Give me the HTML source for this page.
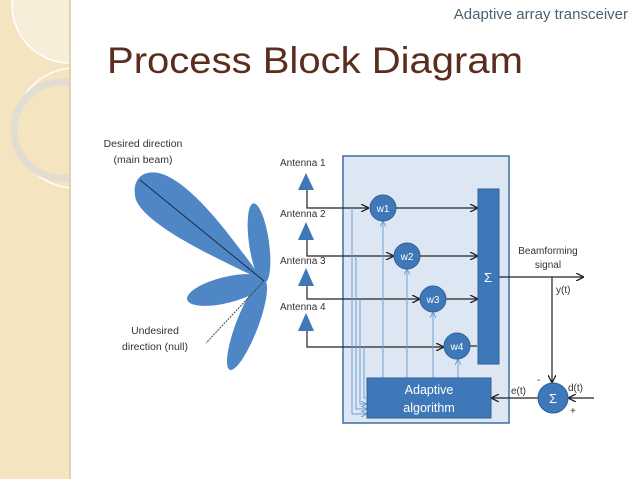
<!DOCTYPE html><html><head><style>body{margin:0;width:638px;height:479px;background:#fff;overflow:hidden;font-family:"Liberation Sans",sans-serif}</style></head><body>
<svg width="638" height="479" viewBox="0 0 638 479" xmlns="http://www.w3.org/2000/svg" font-family="Liberation Sans, sans-serif">
<defs><marker id="a" markerWidth="8" markerHeight="8" refX="7" refY="4" orient="auto" markerUnits="userSpaceOnUse"><path d="M0,0L8,4L0,8" fill="none" stroke="#222" stroke-width="1.3"/></marker>
<marker id="b" markerWidth="6" markerHeight="6" refX="5" refY="3" orient="auto" markerUnits="userSpaceOnUse"><path d="M0,0L6,3L0,6" fill="none" stroke="#6f9fcf" stroke-width="1"/></marker>
<clipPath id="c"><rect x="0" y="0" width="70" height="479"/></clipPath></defs>
<rect x="0" y="0" width="70" height="479" fill="#f4e4c0"/>
<g clip-path="url(#c)">
<circle cx="70" cy="5" r="58" fill="#f7edd8" stroke="#fff" stroke-width="1.5"/>
<circle cx="75" cy="128" r="60" fill="none" stroke="#fff" stroke-width="1.5"/>
<circle cx="62" cy="130" r="48" fill="none" stroke="#e2ddd2" stroke-width="7"/>
</g>
<line x1="70" y1="0" x2="70" y2="479" stroke="#d8c8a0" stroke-width="1.5"/>
<text x="628" y="19" font-size="15" fill="#4d6270" text-anchor="end">Adaptive array transceiver</text>
<text x="107" y="73" font-size="37" fill="#5a2d1f" textLength="416" lengthAdjust="spacingAndGlyphs">Process Block Diagram</text>
<g fill="#4f86c6">
<path d="M264,281 C240,250 200,190 165,175 C145,167 130,178 136,200 C148,228 225,262 264,281Z"/>
<ellipse cx="259" cy="243" rx="40" ry="10" transform="rotate(82 259 243)"/>
<ellipse cx="226" cy="290" rx="40" ry="13" transform="rotate(-14 226 290)"/>
<ellipse cx="247" cy="325" rx="48" ry="11" transform="rotate(-69 247 325)"/>
</g>
<line x1="140" y1="180" x2="264" y2="281" stroke="#1a2a4a" stroke-width="1"/>
<line x1="264" y1="281" x2="206" y2="343" stroke="#444" stroke-width="1" stroke-dasharray="2,1"/>
<text font-size="10.5" fill="#333" text-anchor="middle"><tspan x="143" y="147">Desired direction</tspan><tspan x="143" y="163">(main beam)</tspan></text>
<text font-size="10.5" fill="#333" text-anchor="middle"><tspan x="155" y="334">Undesired</tspan><tspan x="155" y="350">direction (null)</tspan></text>
<rect x="343" y="156" width="166" height="267" fill="#dde7f3" stroke="#3d6ea6" stroke-width="1.5"/>
<g font-size="10" fill="#333"><text x="280" y="166">Antenna 1</text><text x="280" y="217">Antenna 2</text><text x="280" y="264">Antenna 3</text><text x="280" y="310">Antenna 4</text></g>
<g fill="#3f78b8"><path d="M306,173L298,190L314,190Z"/><path d="M306,222L298,240L314,240Z"/><path d="M306,268L298,286L314,286Z"/><path d="M306,313L298,331L314,331Z"/></g>
<g stroke="#222" stroke-width="1.2" fill="none">
<path d="M307,190V208H368" marker-end="url(#a)"/><path d="M307,240V256H393" marker-end="url(#a)"/><path d="M307,286V299H419" marker-end="url(#a)"/><path d="M307,331V347H443" marker-end="url(#a)"/>
<path d="M396,208H477" marker-end="url(#a)"/><path d="M420,256H477" marker-end="url(#a)"/><path d="M446,299H477" marker-end="url(#a)"/><path d="M470,346H477"/>
<path d="M499,277H583" marker-end="url(#a)"/><path d="M552,277V382" marker-end="url(#a)"/>
<path d="M538,398H492" marker-end="url(#a)"/><path d="M594,398H569" marker-end="url(#a)"/>
</g>
<g stroke="#6f9fcf" stroke-width="1" fill="none">
<path d="M383,378V222" marker-end="url(#b)"/><path d="M407,378V270" marker-end="url(#b)"/><path d="M433,378V313" marker-end="url(#b)"/><path d="M458,378V360" marker-end="url(#b)"/>
<path d="M352,208V414H366" marker-end="url(#b)"/><path d="M356,256V409H366" marker-end="url(#b)"/><path d="M360,299V404H366" marker-end="url(#b)"/><path d="M364,347V398H366"/>
</g>
<rect x="478" y="189" width="21" height="175" fill="#3f78b8" stroke="#2f5f98"/>
<text x="488" y="282" font-size="13" fill="#fff" text-anchor="middle">Σ</text>
<g fill="#3f78b8" stroke="#2f5f98"><circle cx="383" cy="208" r="13"/><circle cx="407" cy="256" r="13"/><circle cx="433" cy="299" r="13"/><circle cx="457" cy="346" r="13"/><circle cx="553" cy="398" r="15"/></g>
<g font-size="10" fill="#fff" text-anchor="middle"><text x="383" y="212">w1</text><text x="407" y="260">w2</text><text x="433" y="303">w3</text><text x="457" y="350">w4</text><text x="553" y="403" font-size="13">Σ</text></g>
<rect x="367" y="378" width="124" height="40" fill="#3f78b8" stroke="#2f5f98"/>
<text font-size="12.5" fill="#fff" text-anchor="middle"><tspan x="429" y="394">Adaptive</tspan><tspan x="429" y="412">algorithm</tspan></text>
<g font-size="10" fill="#333"><text x="548" y="254" text-anchor="middle">Beamforming</text><text x="548" y="268" text-anchor="middle">signal</text><text x="556" y="293">y(t)</text><text x="511" y="394">e(t)</text><text x="568" y="391">d(t)</text><text x="537" y="383">-</text><text x="570" y="414">+</text></g>
</svg></body></html>
